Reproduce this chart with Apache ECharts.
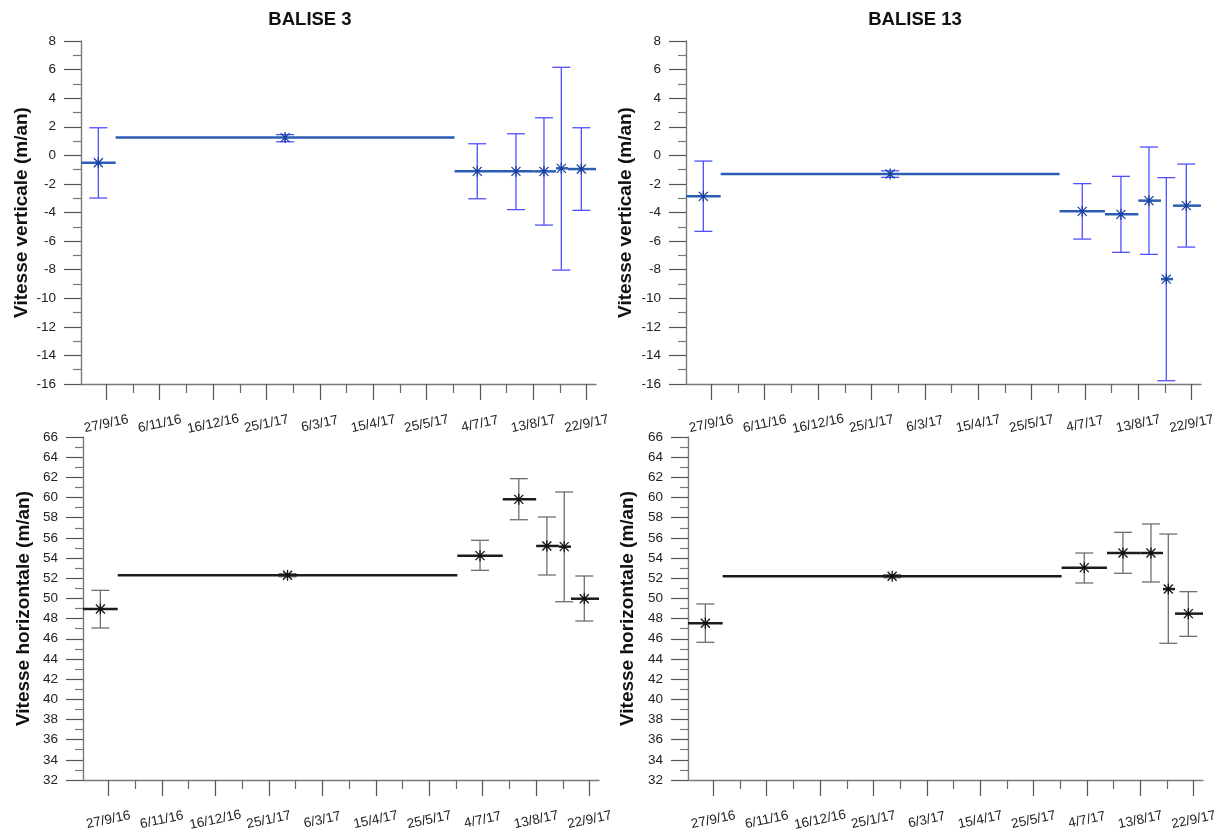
<!DOCTYPE html>
<html><head><meta charset="utf-8">
<script src="https://cdn.jsdelivr.net/npm/echarts@6/dist/echarts.min.js"></script>
<style>html,body{margin:0;padding:0;background:#fff}#chart{width:1222px;height:836px}</style>
</head><body><div id="chart"></div>
<script>
// ---- data ----
const titles = ['BALISE 3', 'BALISE 13'];
const yNames = ['Vitesse verticale (m/an)', 'Vitesse horizontale (m/an)'];
const tickDates = ['2016-09-27','2016-11-06','2016-12-16','2017-01-25','2017-03-06','2017-04-15','2017-05-25','2017-07-04','2017-08-13','2017-09-22'];
const tickLabels = ['27/9/16','6/11/16','16/12/16','25/1/17','6/3/17','15/4/17','25/5/17','4/7/17','13/8/17','22/9/17'];
const minorTickDates = ['2016-10-17','2016-11-26','2017-01-05','2017-02-14','2017-03-26','2017-05-05','2017-06-14','2017-07-24','2017-09-02'];
const xRange = ['2016-09-08', '2017-09-29'];
const vertRange = [-16, 8];
const horizRange = [32, 66];

// measurement periods (start / end) and point dates
const periodStart = ['2016-09-08','2016-10-04','2017-06-15','2017-07-19','2017-08-13','2017-08-30','2017-09-08'];
const periodEnd   = ['2016-10-04','2017-06-15','2017-07-19','2017-08-13','2017-08-30','2017-09-08','2017-09-29'];
const pointDates  = ['2016-09-21','2017-02-08','2017-07-02','2017-07-31','2017-08-21','2017-09-03','2017-09-18'];

// BALISE 3
const b3Vert     = [-0.52, 1.24, -1.12, -1.12, -1.12, -0.91, -0.96];
const b3VertLow  = [-2.99, 0.95, -3.04, -3.80, -4.88, -8.03, -3.85];
const b3VertHigh = [ 1.93, 1.45,  0.81,  1.51,  2.63,  6.16,  1.93];
const b3Hor      = [48.95, 52.29, 54.24, 59.82, 55.20, 55.13, 49.97];
const b3HorLow   = [47.07, 52.15, 52.78, 57.80, 52.32, 49.67, 47.76];
const b3HorHigh  = [50.80, 52.45, 55.76, 61.87, 58.07, 60.55, 52.22];
// BALISE 13
const b13Vert     = [-2.87, -1.31, -3.92, -4.13, -3.17, -8.66, -3.52];
const b13VertLow  = [-5.32, -1.54, -5.86, -6.79, -6.93, -15.77, -6.42];
const b13VertHigh = [-0.40, -1.08, -1.98, -1.47,  0.58, -1.56, -0.61];
const b13Hor      = [47.53, 52.19, 53.05, 54.50, 54.50, 50.93, 48.49];
const b13HorLow   = [45.65, 52.05, 51.53, 52.49, 51.63, 45.55, 46.24];
const b13HorHigh  = [49.45, 52.35, 54.50, 56.55, 57.38, 56.38, 50.67];

// ---- helpers ----
const ORIGIN = Date.UTC(2016, 8, 27);
function day(iso) { const [y, m, d] = iso.split('-').map(Number); return (Date.UTC(y, m - 1, d) - ORIGIN) / 86400000; }
const tickDays = tickDates.map(day);
const minorDays = minorTickDates.map(day);
function rows(vals, lo, hi) {
  return vals.map((v, i) => [day(periodStart[i]), day(periodEnd[i]), day(pointDates[i]), v, lo[i], hi[i]]);
}
const FONT = 'Liberation Sans, Arial, sans-serif';
const blueStyle = { seg: '#2a5db3', err: '#5050ff', mark: '#1b3f9e' };
const greyStyle = { seg: '#1c1c1c', err: '#6e6e6e', mark: '#111111' };

function makeRender(st) {
  return function (params, api) {
    const s = api.value(0), e = api.value(1), px = api.value(2), v = api.value(3), lo = api.value(4), hi = api.value(5);
    const a = api.coord([s, v]), b = api.coord([e, v]), p = api.coord([px, v]);
    const pl = api.coord([px, lo]), ph = api.coord([px, hi]);
    const cap = 9, m = 4.5;
    const eStyle = { stroke: st.err, lineWidth: 1.3 };
    const mStyle = { stroke: st.mark, lineWidth: 1.3 };
    return {
      type: 'group',
      children: [
        { type: 'line', shape: { x1: p[0], y1: pl[1], x2: p[0], y2: ph[1] }, style: eStyle },
        { type: 'line', shape: { x1: p[0] - cap, y1: pl[1], x2: p[0] + cap, y2: pl[1] }, style: eStyle },
        { type: 'line', shape: { x1: p[0] - cap, y1: ph[1], x2: p[0] + cap, y2: ph[1] }, style: eStyle },
        { type: 'line', shape: { x1: a[0], y1: a[1], x2: b[0], y2: b[1] }, style: { stroke: st.seg, lineWidth: 2.5 } },
        { type: 'line', shape: { x1: p[0] - m, y1: p[1] - m, x2: p[0] + m, y2: p[1] + m }, style: mStyle },
        { type: 'line', shape: { x1: p[0] - m, y1: p[1] + m, x2: p[0] + m, y2: p[1] - m }, style: mStyle },
        { type: 'line', shape: { x1: p[0], y1: p[1] - m - 1, x2: p[0], y2: p[1] + m + 1 }, style: mStyle },
        { type: 'rect', shape: { x: p[0] - 1.5, y: p[1] - 1.5, width: 3, height: 3 }, style: { fill: st.mark } }
      ]
    };
  };
}

const grids = [
  { left: 81, top: 41, width: 515, height: 343 },
  { left: 686, top: 41, width: 515, height: 343 },
  { left: 83, top: 437, width: 516, height: 343 },
  { left: 688, top: 437, width: 515, height: 343 }
];
const axisColor = '#7a7a7a';
const xMajor = grids.map((g, i) => ({
  type: 'value', gridIndex: i, position: 'bottom', min: day(xRange[0]), max: day(xRange[1]),
  axisLine: { show: true, onZero: false, lineStyle: { color: axisColor, width: 1.4 } },
  axisTick: { show: true, customValues: tickDays, length: 16, lineStyle: { color: '#555', width: 1.2 } },
  axisLabel: {
    customValues: tickDays, rotate: 12, align: 'center', verticalAlign: 'middle', margin: 40,
    fontSize: 13.5, fontFamily: FONT, color: '#222',
    formatter: v => { const k = tickDays.findIndex(t => Math.abs(t - v) < 0.5); return k >= 0 ? tickLabels[k] : ''; }
  },
  splitLine: { show: false }
}));
const xMinor = grids.map((g, i) => ({
  type: 'value', gridIndex: i, position: 'bottom', min: day(xRange[0]), max: day(xRange[1]),
  axisLine: { show: false, onZero: false },
  axisTick: { show: true, customValues: minorDays, length: 9, lineStyle: { color: '#666', width: 1.2 } },
  axisLabel: { show: false }, splitLine: { show: false }
}));
const yAxes = grids.map((g, i) => {
  const r = i < 2 ? vertRange : horizRange;
  return {
    type: 'value', gridIndex: i, position: 'left', min: r[0], max: r[1], interval: 2,
    name: i < 2 ? yNames[0] : yNames[1], nameLocation: 'middle', nameGap: i % 2 === 0 ? 50 : 51,
    nameTextStyle: { fontSize: 19, fontWeight: 'bold', fontFamily: FONT, color: '#111' },
    axisLine: { show: true, onZero: false, lineStyle: { color: axisColor, width: 1.4 } },
    axisTick: { show: true, length: 17, lineStyle: { color: '#555', width: 1.2 } },
    minorTick: { show: true, splitNumber: 2, length: 8, lineStyle: { color: '#777', width: 1.2 } },
    axisLabel: { margin: 25, fontSize: 13.5, fontFamily: FONT, color: '#222' },
    splitLine: { show: false }, minorSplitLine: { show: false }
  };
});

const seriesData = [
  { d: rows(b3Vert, b3VertLow, b3VertHigh), st: blueStyle },
  { d: rows(b13Vert, b13VertLow, b13VertHigh), st: blueStyle },
  { d: rows(b3Hor, b3HorLow, b3HorHigh), st: greyStyle },
  { d: rows(b13Hor, b13HorLow, b13HorHigh), st: greyStyle }
];

const chart = echarts.init(document.getElementById('chart'), null, { renderer: 'canvas' });
chart.setOption({
  backgroundColor: '#fff',
  animation: false,
  grid: grids.map(g => Object.assign({ outerBoundsMode: 'none', containLabel: false }, g)),
  xAxis: xMajor.concat(xMinor),
  yAxis: yAxes,
  graphic: [
    { type: 'text', x: 310, y: 20, style: { text: titles[0], font: 'bold 18.5px ' + FONT, fill: '#111', align: 'center', verticalAlign: 'middle', textAlign: 'center', textVerticalAlign: 'middle' } },
    { type: 'text', x: 915, y: 20, style: { text: titles[1], font: 'bold 18.5px ' + FONT, fill: '#111', align: 'center', verticalAlign: 'middle', textAlign: 'center', textVerticalAlign: 'middle' } }
  ],
  series: seriesData.map((s, i) => ({
    type: 'custom', xAxisIndex: i, yAxisIndex: i, data: s.d,
    encode: { x: [0, 1, 2], y: [3, 4, 5] },
    renderItem: makeRender(s.st), silent: true
  }))
});
</script></body></html>
